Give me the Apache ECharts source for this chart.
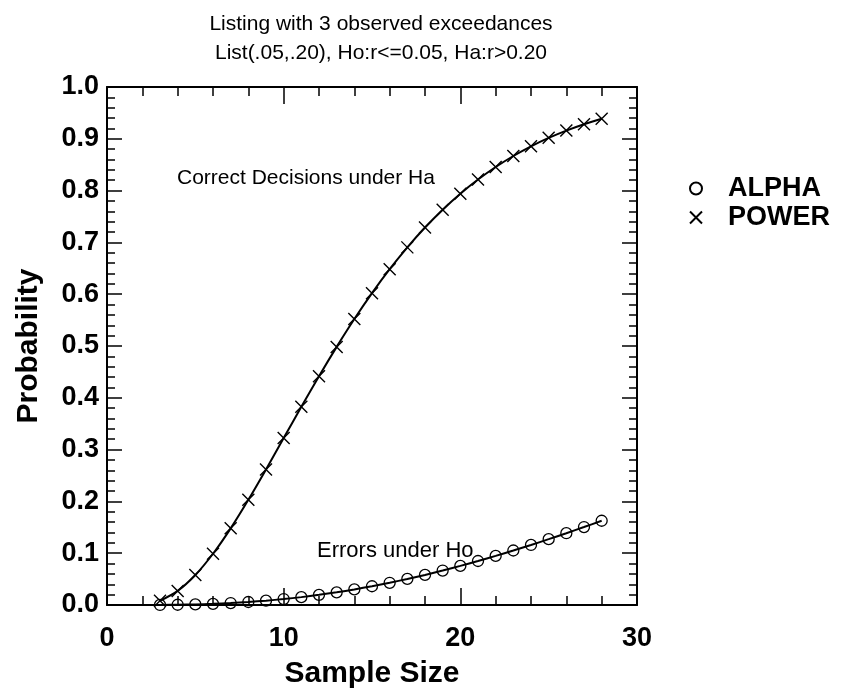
<!DOCTYPE html>
<html>
<head>
<meta charset="utf-8">
<script src="https://cdn.jsdelivr.net/npm/echarts@6/dist/echarts.min.js"></script>
<style>
html,body{margin:0;padding:0;background:#fff;}
#chart{width:841px;height:694px;}
</style>
</head>
<body>
<div id="chart"></div>
<script>
// ---- data ----
var sampleSizes = [3,4,5,6,7,8,9,10,11,12,13,14,15,16,17,18,19,20,21,22,23,24,25,26,27,28];
var alphaValues = [0.0001,0.0005,0.0012,0.0022,0.0038,0.0058,0.0084,0.0115,0.0152,0.0196,0.0245,0.0301,0.0362,0.0429,0.0503,0.0581,0.0665,0.0755,0.0849,0.0948,0.1052,0.1159,0.1271,0.1386,0.1505,0.1626];
var powerValues = [0.0080,0.0272,0.0579,0.0989,0.1480,0.2031,0.2618,0.3222,0.3826,0.4417,0.4983,0.5520,0.6020,0.6482,0.6904,0.7287,0.7631,0.7939,0.8213,0.8455,0.8668,0.8855,0.9018,0.9159,0.9282,0.9388];
var seriesNames = ['ALPHA','POWER'];
var titleLines = ['Listing with 3 observed exceedances','List(.05,.20), Ho:r<=0.05, Ha:r>0.20'];
var xAxisTitle = 'Sample Size';
var yAxisTitle = 'Probability';
var annotationPower = 'Correct Decisions under Ha';
var annotationAlpha = 'Errors under Ho';

function pairs(xs, ys){ return xs.map(function(x,i){ return [x, ys[i]]; }); }

var FONT = "'Liberation Sans', Arial, Helvetica, sans-serif";
var crossPath = 'path://M0,0L10,10M10,0L0,10';

var chart = echarts.init(document.getElementById('chart'), null, {renderer:'canvas'});

function xAx(pos, showLabel){
  return {
    type:'value', position:pos, min:0, max:30, interval:10,
    name: showLabel ? xAxisTitle : '',
    nameLocation:'middle', nameGap:54,
    nameTextStyle:{fontFamily:FONT, fontSize:30, fontWeight:'bold', color:'#000'},
    axisLine:{show:true, onZero:false, lineStyle:{color:'#000', width:2}},
    axisTick:{show:true, inside:true, length:17, lineStyle:{color:'#000', width:1.5}},
    minorTick:{show:true, splitNumber:5, length:9, lineStyle:{color:'#000', width:1.5}},
    axisLabel:{show:showLabel, margin:20, fontFamily:FONT, fontSize:27, fontWeight:'bold', color:'#000'},
    splitLine:{show:false}
  };
}
function yAx(pos, showLabel){
  return {
    type:'value', position:pos, min:0, max:1, interval:0.1,
    name: showLabel ? yAxisTitle : '',
    nameLocation:'middle', nameGap:63, nameRotate:90,
    nameTextStyle:{fontFamily:FONT, fontSize:30, fontWeight:'bold', color:'#000'},
    axisLine:{show:true, onZero:false, lineStyle:{color:'#000', width:2}},
    axisTick:{show:true, inside:true, length:15, lineStyle:{color:'#000', width:1.5}},
    minorTick:{show:true, splitNumber:5, length:8, lineStyle:{color:'#000', width:1.5}},
    axisLabel:{show:showLabel, margin:8, fontFamily:FONT, fontSize:27, fontWeight:'bold', color:'#000',
      formatter:function(v){ return v.toFixed(1); }},
    splitLine:{show:false}
  };
}

var option = {
  backgroundColor:'#fff',
  animation:false,
  title:{
    text: titleLines.join('\n'),
    left:376, top:5, textAlign:'center',
    textStyle:{fontFamily:FONT, fontSize:21, fontWeight:'normal', color:'#000', lineHeight:29}
  },
  grid:{left:107, top:87, width:530, height:525, containLabel:false},
  xAxis:[xAx('bottom', true), xAx('top', false)],
  yAxis:[yAx('left', true), yAx('right', false)],
  legend:{
    orient:'vertical', left:684, top:170,
    itemWidth:12, itemHeight:12, itemGap:2,
    textStyle:{fontFamily:FONT, fontSize:27, fontWeight:'bold', color:'#000', padding:[0,0,0,21]},
    data:[
      {name:seriesNames[0], icon:'circle'},
      {name:seriesNames[1], icon:crossPath}
    ]
  },
  graphic:[
    {type:'text', left:177, top:168, style:{text:annotationPower, font:"21px "+FONT, fill:'#000'}},
    {type:'text', left:317, top:540, style:{text:annotationAlpha, font:"22px "+FONT, fill:'#000'}}
  ],
  series:[
    {
      name:seriesNames[0], type:'line', xAxisIndex:0, yAxisIndex:0,
      data:pairs(sampleSizes, alphaValues),
      smooth:0.3, symbol:'circle', symbolSize:11, showSymbol:true,
      clip:false,
      lineStyle:{color:'#000', width:2},
      itemStyle:{color:'rgba(0,0,0,0)', borderColor:'#000', borderWidth:1.3},
      emphasis:{disabled:true}
    },
    {
      name:seriesNames[1], type:'line', xAxisIndex:0, yAxisIndex:0,
      data:pairs(sampleSizes, powerValues),
      smooth:0.3, symbol:crossPath, symbolSize:12, showSymbol:true,
      clip:false,
      lineStyle:{color:'#000', width:2},
      itemStyle:{color:'rgba(0,0,0,0)', borderColor:'#000', borderWidth:1.4},
      emphasis:{disabled:true}
    }
  ]
};
chart.setOption(option);
</script>
</body>
</html>
